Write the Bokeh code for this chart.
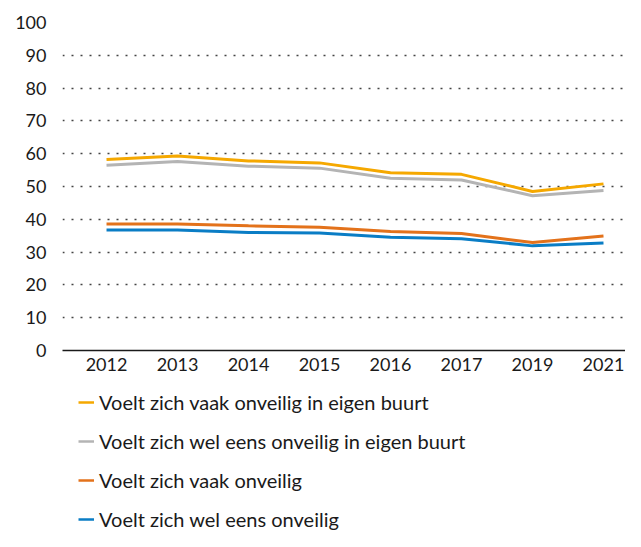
from bokeh.plotting import figure
from bokeh.layouts import column
from bokeh.models import Legend, LegendItem, FixedTicker, Range1d
from bokeh.embed import file_html
from bokeh.resources import INLINE

years = ["2012", "2013", "2014", "2015", "2016", "2017", "2019", "2021"]
vaak_buurt = [58.2, 59.3, 57.8, 57.2, 54.2, 53.7, 48.5, 50.8]
wel_eens_buurt = [56.5, 57.6, 56.2, 55.6, 52.5, 52.0, 47.2, 48.8]
vaak = [38.6, 38.6, 38.0, 37.6, 36.3, 35.7, 32.9, 34.9]
wel_eens = [36.7, 36.7, 36.0, 35.8, 34.5, 34.1, 31.9, 32.8]

labels = [
    "Voelt zich vaak onveilig in eigen buurt",
    "Voelt zich wel eens onveilig in eigen buurt",
    "Voelt zich vaak onveilig",
    "Voelt zich wel eens onveilig",
]
colors = ["#F5A800", "#B4B4B4", "#E3721B", "#0A7DC5"]
y_ticks = list(range(0, 101, 10))

FONT = "Lato"
TEXT = "#1a1a1a"

x = list(range(len(years)))
series_all = [vaak_buurt, wel_eens_buurt, vaak, wel_eens]

# ---- chart ----
p = figure(width=625, height=380, output_backend="svg", toolbar_location=None,
           x_range=Range1d(-0.62, 7.31), y_range=Range1d(0, 100),
           min_border_left=62, min_border_right=0, min_border_top=22,
           min_border_bottom=30)
p.outline_line_color = None

for series, col in zip(series_all, colors):
    p.line(x, series, line_color=col, line_width=3)

p.xaxis.ticker = FixedTicker(ticks=x)
p.xaxis.major_label_overrides = {i: y for i, y in enumerate(years)}
p.xaxis.major_tick_line_color = None
p.xaxis.minor_tick_line_color = None
p.xaxis.axis_line_color = "#1a1a1a"
p.xaxis.axis_line_width = 1.5
p.xaxis.major_label_text_font = FONT
p.xaxis.major_label_text_font_size = "18px"
p.xaxis.major_label_text_color = TEXT
p.xaxis.major_label_standoff = 1

p.yaxis.ticker = FixedTicker(ticks=y_ticks)
p.yaxis.major_tick_line_color = None
p.yaxis.minor_tick_line_color = None
p.yaxis.axis_line_color = None
p.yaxis.major_label_text_font = FONT
p.yaxis.major_label_text_font_size = "18px"
p.yaxis.major_label_text_color = TEXT
p.yaxis.major_label_standoff = 10

p.xgrid.grid_line_color = None
p.ygrid.grid_line_color = "#444444"
p.ygrid.grid_line_dash = "2 7"
p.ygrid.grid_line_width = 1.5

# ---- legend (separate panel below the chart) ----
lg = figure(width=625, height=151, output_backend="svg", toolbar_location=None,
            x_range=Range1d(0, 1), y_range=Range1d(1000, 1001),
            x_axis_type=None, y_axis_type=None,
            min_border_left=62, min_border_right=0, min_border_top=0,
            min_border_bottom=0)
lg.outline_line_color = None
items = []
for series, col, lab in zip(series_all, colors, labels):
    r = lg.line(x, series, line_color=col, line_width=2.5)  # out of view; drives legend glyph
    items.append(LegendItem(label=lab, renderers=[r]))

legend = Legend(items=items, location=(16, 0), orientation="vertical",
                padding=0, margin=0, border_line_color=None,
                background_fill_alpha=0,
                glyph_width=16, glyph_height=22, label_height=22,
                spacing=15, label_standoff=5,
                label_text_font=FONT, label_text_font_size="20px",
                label_text_color=TEXT)
lg.add_layout(legend)

layout = column(p, lg, spacing=0)
open("out.html", "w").write(file_html(layout, INLINE))
